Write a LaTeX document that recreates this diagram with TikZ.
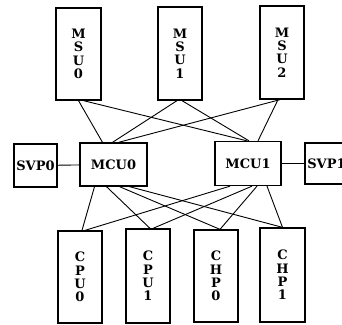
\documentclass[tikz,border=0pt]{standalone}
\usepackage{fontspec}
\setmainfont{DejaVu Serif}
\begin{document}
\begin{tikzpicture}[x=1pt,y=-1pt,
  box/.style={draw,line width=1.3pt,inner sep=0pt,font=\fontsize{13}{13.3}\selectfont\bfseries,align=center},
  link/.style={line width=0.9pt}]
\useasboundingbox (0,0) rectangle (342,324);
\node[box,minimum width=45pt,minimum height=92pt] (MSU0) at (78.5,54) {M\\S\\U\\0};
\node[box,minimum width=44pt,minimum height=93pt] (MSU1) at (180,53.5) {M\\S\\U\\1};
\node[box,minimum width=44pt,minimum height=93pt] (MSU2) at (282,52.5) {M\\S\\U\\2};
\node[box,minimum width=67pt,minimum height=43pt] (MCU0) at (113.5,164.5) {MCU0};
\node[box,minimum width=66pt,minimum height=44pt] (MCU1) at (248,163.5) {MCU1};
\node[box,minimum width=43pt,minimum height=43pt] (SVP0) at (35.5,165.5) {SVP0};
\node[box,minimum width=43pt,minimum height=41pt] (SVP1) at (326.5,163.5) {SVP1};
\node[box,minimum width=44pt,minimum height=92pt] (CPU0) at (80,277) {C\\P\\U\\0};
\node[box,minimum width=44pt,minimum height=94pt] (CPU1) at (148,276) {C\\P\\U\\1};
\node[box,minimum width=44pt,minimum height=92pt] (CHP0) at (216,276) {C\\H\\P\\0};
\node[box,minimum width=45pt,minimum height=94pt] (CHP1) at (282.5,275) {C\\H\\P\\1};
% MSU to MCU
\draw[link] ([xshift=0pt]MSU0.south) -- ([xshift=-11pt]MCU0.north);
\draw[link] ([xshift=5pt]MSU0.south) -- ([xshift=-1pt]MCU1.north);
\draw[link] ([xshift=-3pt]MSU1.south) -- ([xshift=-1pt]MCU0.north);
\draw[link] ([xshift=2pt]MSU1.south) -- ([xshift=1pt]MCU1.north);
\draw[link] ([xshift=-2pt]MSU2.south) -- ([xshift=5pt]MCU0.north);
\draw[link] ([xshift=-4pt]MSU2.south) -- ([xshift=10pt]MCU1.north);
% SVP
\draw[link] (SVP0) -- (MCU0);
\draw[link] (MCU1) -- (SVP1);
% MCU to CPU/CHP
\draw[link] ([xshift=-19pt]MCU0.south) -- ([xshift=2pt]CPU0.north);
\draw[link] ([xshift=-7pt]MCU0.south) -- ([xshift=2pt]CPU1.north);
\draw[link] ([xshift=6pt]MCU0.south) -- ([xshift=4pt]CHP0.north);
\draw[link] ([xshift=16pt]MCU0.south) -- ([xshift=0pt]CHP1.north);
\draw[link] ([xshift=-18pt]MCU1.south) -- ([xshift=5pt]CPU0.north);
\draw[link] ([xshift=4pt]MCU1.south) -- ([xshift=5pt]CPU1.north);
\draw[link] ([xshift=9pt]MCU1.south) -- ([xshift=4pt]CHP0.north);
\draw[link] ([xshift=19pt]MCU1.south) -- ([xshift=0pt]CHP1.north);
\end{tikzpicture}
\end{document}
